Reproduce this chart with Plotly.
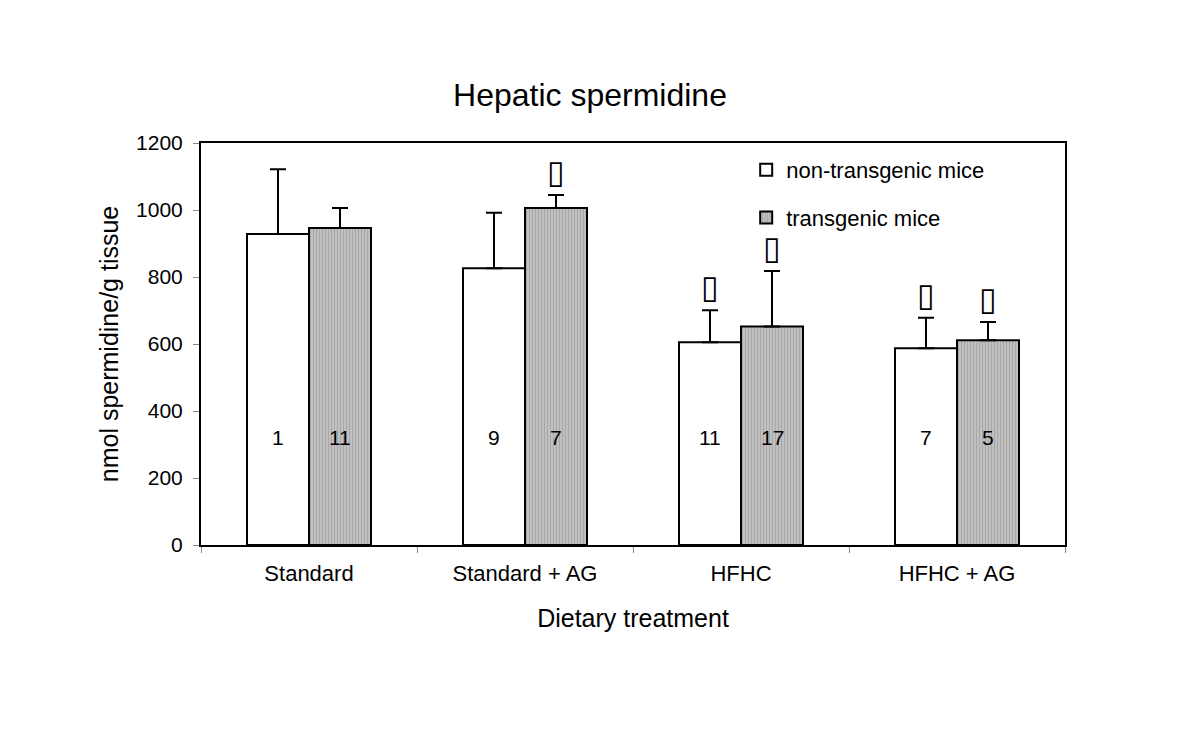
import plotly.graph_objects as go

categories = ["Standard", "Standard + AG", "HFHC", "HFHC + AG"]
nontg_mean = [928, 826, 605, 587]
nontg_err = [194, 166, 96, 91]
tg_mean = [946, 1006, 652, 611]
tg_err = [60, 39, 166, 55]
nontg_n = ["1", "9", "11", "7"]
tg_n = ["11", "7", "17", "5"]
nontg_sig = [False, False, True, True]
tg_sig = [False, True, True, True]
n_label_y = 320

FONT = "Liberation Sans, Arial, sans-serif"

fig = go.Figure()
fig.add_trace(go.Bar(
    x=categories, y=nontg_mean, name="non-transgenic mice",
    marker=dict(color="white", line=dict(color="black", width=2)),
    error_y=dict(type="data", symmetric=False, array=nontg_err,
                 arrayminus=[0] * 4, color="black", thickness=2, width=8),
    legendgroup="a",
))
fig.add_trace(go.Bar(
    x=categories, y=tg_mean, name="transgenic mice",
    marker=dict(color="#c4c4c4", line=dict(color="black", width=2),
                pattern=dict(shape="|", fgcolor="#8c8c8c", size=3,
                             solidity=0.45, fillmode="overlay")),
    error_y=dict(type="data", symmetric=False, array=tg_err,
                 arrayminus=[0] * 4, color="black", thickness=2, width=8),
    legendgroup="b",
))

annotations = []
for i, c in enumerate(categories):
    annotations.append(dict(x=c, y=n_label_y, xref="x", yref="y", text=nontg_n[i],
                            showarrow=False, xshift=-31,
                            font=dict(family=FONT, size=21, color="black")))
    annotations.append(dict(x=c, y=n_label_y, xref="x", yref="y", text=tg_n[i],
                            showarrow=False, xshift=31,
                            font=dict(family=FONT, size=21, color="black")))
    if nontg_sig[i]:
        annotations.append(dict(x=c, y=nontg_mean[i] + nontg_err[i], xref="x", yref="y",
                                text="▯", showarrow=False, xshift=-31, yshift=23,
                                font=dict(family="DejaVu Sans", size=32, color="black")))
    if tg_sig[i]:
        annotations.append(dict(x=c, y=tg_mean[i] + tg_err[i], xref="x", yref="y",
                                text="▯", showarrow=False, xshift=31, yshift=23,
                                font=dict(family="DejaVu Sans", size=32, color="black")))

fig.update_layout(
    width=1200, height=736,
    paper_bgcolor="white", plot_bgcolor="white",
    margin=dict(l=193, r=143, t=135, b=199),
    barmode="group", bargap=0.426, bargroupgap=0,
    font=dict(family=FONT, size=20, color="black"),
    title=dict(text="Hepatic spermidine", x=0.485, xanchor="center",
               y=0.882, yanchor="middle",
               font=dict(family=FONT, size=32, color="black")),
    legend=dict(x=0.631, y=0.985, xanchor="left", yanchor="top",
                bgcolor="rgba(0,0,0,0)", traceorder="grouped", tracegroupgap=16,
                itemwidth=30,
                font=dict(family=FONT, size=22, color="black")),
    annotations=annotations,
)
fig.update_xaxes(
    showline=True, linecolor="black", linewidth=2, mirror=True,
    ticks="outside", tickson="boundaries", ticklen=6, tickcolor="#888888",
    tickfont=dict(family=FONT, size=22), ticklabelstandoff=8,
    title=dict(text="Dietary treatment", font=dict(family=FONT, size=25), standoff=24),
    showgrid=False,
)
fig.update_yaxes(
    range=[0, 1200], dtick=200, tick0=0,
    showline=True, linecolor="black", linewidth=2, mirror=True,
    ticks="outside", ticklen=6, tickcolor="#888888",
    tickfont=dict(family=FONT, size=21), ticklabelstandoff=6,
    title=dict(text="nmol spermidine/g tissue", font=dict(family=FONT, size=25), standoff=10),
    showgrid=False, zeroline=False,
)

fig.write_html("out.html")
